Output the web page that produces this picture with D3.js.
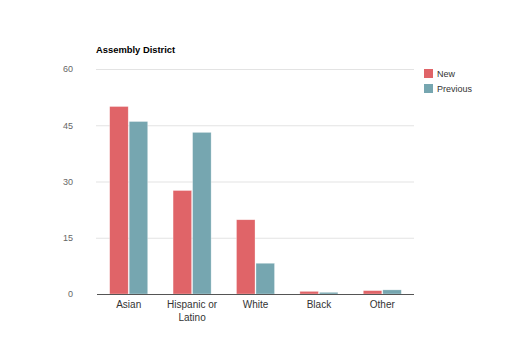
<!DOCTYPE html>
<html>
<head>
<meta charset="utf-8">
<script src="https://cdn.jsdelivr.net/npm/d3@7"></script>
<style>
	body { margin: 0; background: #fff; }
	svg text { font-family: "Liberation Sans", Arial, sans-serif; }
</style>
</head>
<body>
<div id="chart"></div>
<script>

var categories = [["Asian"], ["Hispanic or", "Latino"], ["White"], ["Black"], ["Other"]];
var seriesNames = ["New", "Previous"];
var newValues = [50, 27.6, 19.8, 0.7, 0.9];
var previousValues = [46, 43.1, 8.2, 0.45, 1.1];
var yTicks = [0, 15, 30, 45, 60];

var colors = ["#e06468", "#76a6b0"];

var W = 510, H = 362,
	margins = {top: 69, left: 97, right: 96, bottom: 68},
	width = W - margins.left - margins.right,
	height = H - margins.top - margins.bottom;

var svg = d3.select("#chart")
	.append("svg")
		.attr("width", W)
		.attr("height", H);

svg.append("text")
	.attr("x", 96)
	.attr("y", 53)
	.attr("font-size", "9.4px")
	.attr("font-weight", "bold")
	.attr("fill", "#000")
	.text("Assembly District");

var g = svg.append("g")
	.attr("transform", "translate(" + margins.left + "," + margins.top + ")");

var xScale = d3.scaleBand().domain(d3.range(categories.length)).range([0, width]).paddingInner(0.4).paddingOuter(0.2);
var xSeries = d3.scaleBand().domain(seriesNames).range([0, xScale.bandwidth()]).paddingInner(0.05);
var yScale = d3.scaleLinear().domain([0, 60]).range([height, 0]);

// grid lines
g.append("g")
	.selectAll("line")
	.data(yTicks.filter(function(d) { return d > 0; }))
	.enter().append("line")
		.attr("x1", -1)
		.attr("x2", width)
		.attr("y1", function(d) { return yScale(d) + 0.5; })
		.attr("y2", function(d) { return yScale(d) + 0.5; })
		.attr("stroke", "#e3e3e3")
		.attr("stroke-width", 1);

// y labels
var yAxis = d3.axisLeft(yScale).tickValues(yTicks).tickSize(0).tickPadding(24);
g.append("g")
	.call(yAxis)
	.call(function(s) {
		s.select(".domain").remove();
		s.selectAll("text").attr("fill", "#666").attr("font-size", "9px").attr("font-family", "Liberation Sans, Arial, sans-serif");
	});

// bars
var rows = categories.map(function(c, i) {
	return [{s: "New", v: newValues[i]}, {s: "Previous", v: previousValues[i]}];
});

g.append("g")
	.selectAll("g")
	.data(rows)
	.enter().append("g")
		.attr("transform", function(d, i) { return "translate(" + xScale(i) + ",0)"; })
	.selectAll("rect")
	.data(function(d) { return d; })
	.enter().append("rect")
		.attr("x", function(d) { return xSeries(d.s); })
		.attr("y", function(d) { return yScale(d.v); })
		.attr("width", xSeries.bandwidth())
		.attr("height", function(d) { return height - yScale(d.v); })
		.attr("fill", function(d, i) { return colors[i]; })
		.attr("stroke", "#fff")
		.attr("stroke-opacity", 0.5)
		.attr("stroke-width", 0.6);

// x axis baseline
g.append("line")
	.attr("x1", 0)
	.attr("x2", width)
	.attr("y1", height + 0.5)
	.attr("y2", height + 0.5)
	.attr("stroke", "#555")
	.attr("stroke-width", 1);

// x labels
var xl = g.append("g")
	.selectAll("text")
	.data(categories)
	.enter().append("text")
		.attr("x", function(d, i) { return xScale(i) + xScale.bandwidth() / 2; })
		.attr("y", height + 14)
		.attr("text-anchor", "middle")
		.attr("font-size", "10px")
		.attr("fill", "#333");

xl.selectAll("tspan")
	.data(function(d) { return d; })
	.enter().append("tspan")
		.attr("x", function() { return this.parentNode.getAttribute("x"); })
		.attr("dy", function(d, i) { return i ? 13 : 0; })
		.text(function(d) { return d; });

// legend
var legend = svg.append("g")
	.attr("transform", "translate(424,69)")
	.selectAll("g")
	.data(seriesNames)
	.enter().append("g")
		.attr("transform", function(d, i) { return "translate(0," + (i * 15) + ")"; });

legend.append("rect")
	.attr("width", 9)
	.attr("height", 9)
	.attr("fill", function(d, i) { return colors[i]; });

legend.append("text")
	.attr("x", 13)
	.attr("y", 8)
	.attr("font-size", "9px")
	.attr("fill", "#333")
	.text(function(d) { return d; });

</script>
</body>
</html>
